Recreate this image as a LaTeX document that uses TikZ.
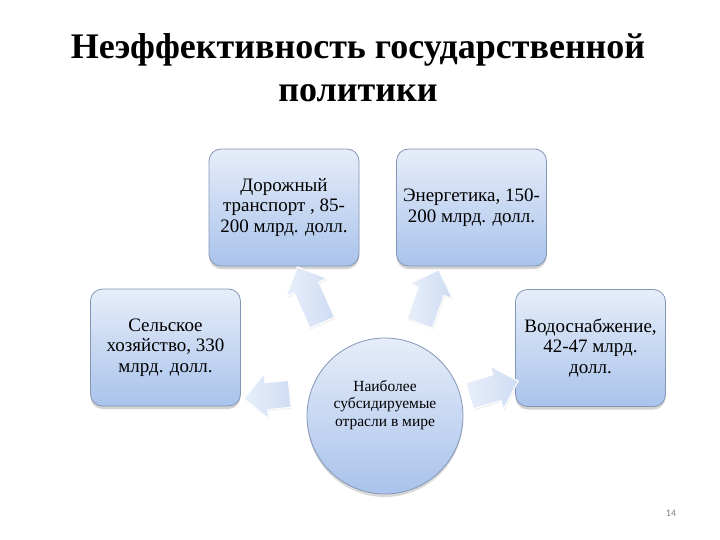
\documentclass[tikz,border=0pt]{standalone}
\usepackage{fontspec}
\setmainfont{Liberation Serif}
\newfontfamily\rufont{Liberation Serif}
\newfontfamily\pnumfont{Carlito}
\usetikzlibrary{shapes.arrows,shadows}
\definecolor{boxtop}{HTML}{E6EDF9}
\definecolor{boxbot}{HTML}{A9C3EB}
\definecolor{boxline}{HTML}{8496B6}
\definecolor{arrtop}{HTML}{CEDCF3}
\definecolor{arrbot}{HTML}{E8EFFA}
\tikzset{
  box/.style={draw=boxline, line width=0.8pt, rounded corners=12pt,
    top color=boxtop, bottom color=boxbot,
    minimum width=150pt, minimum height=117pt, align=center,
    font=\rufont\fontsize{19}{20.5}\selectfont,
    drop shadow={shadow xshift=0pt, shadow yshift=-3pt, opacity=0.35, fill=gray}},
  hub/.style={circle, draw=boxline, line width=0.8pt,
    top color=boxtop, bottom color=boxbot, minimum size=156pt,
    drop shadow={shadow xshift=0pt, shadow yshift=-3pt, opacity=0.3, fill=gray}},
  hubtext/.style={align=center, font=\rufont\fontsize{15.5}{17.5}\selectfont},
  blockarrow/.style={single arrow, draw=white, line width=1pt,
    left color=arrbot, right color=arrtop,
    minimum width=44pt, single arrow head extend=9pt, inner sep=13pt,
    single arrow head indent=0pt,
    drop shadow={shadow xshift=1pt, shadow yshift=-1.5pt, opacity=0.12, fill=gray}}
}
\begin{document}
\begin{tikzpicture}[x=1pt,y=-1pt]
\useasboundingbox (0,0) rectangle (720,540);
\node[font=\rufont\fontsize{36}{43}\selectfont\bfseries, align=center] (title) at (358,68)
  {Неэффективность государственной\\политики};
\node[box] (road) at (284,207.5) {Дорожный\\транспорт , 85-\\200 млрд. долл.};
\node[box] (energy) at (471.5,207.5) {Энергетика, 150-\\200 млрд. долл.};
\node[box] (agri) at (165.5,347.5) {Сельское\\хозяйство, 330\\млрд. долл.};
\node[box] (water) at (590.5,348) {Водоснабжение,\\42-47 млрд.\\долл.};
\node[hub] (hub) at (385,416) {};
\node[hubtext] (hubtxt) at (385,405) {Наиболее\\субсидируемые\\отрасли в мире};
\node[blockarrow, minimum height=61pt, rotate=114] (a1) at (312.5,301) {};
\node[blockarrow, minimum height=57pt, rotate=70.6] (a2) at (427,303) {};
\node[blockarrow, minimum height=46pt, rotate=186] (a3) at (273.5,395.5) {};
\node[blockarrow, minimum height=51pt, rotate=17] (a4) at (487.5,390.5) {};
\node[font=\pnumfont\fontsize{10}{12}\selectfont, text=gray] (pnum) at (671,513) {14};
\end{tikzpicture}
\end{document}
